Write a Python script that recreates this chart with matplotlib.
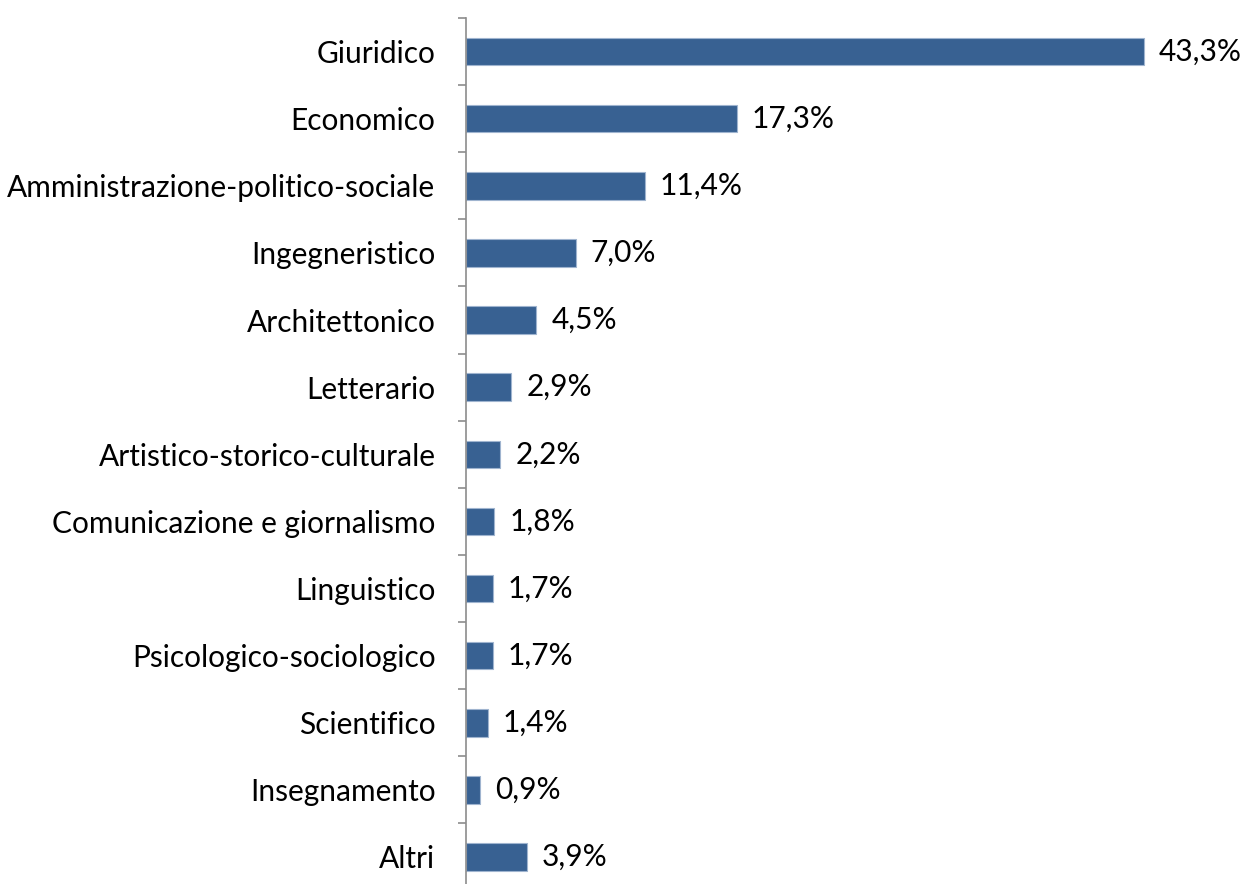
import matplotlib
matplotlib.use("Agg")
import matplotlib.pyplot as plt
import numpy as np

categories = [
    "Giuridico", "Economico", "Amministrazione-politico-sociale",
    "Ingegneristico", "Architettonico", "Letterario",
    "Artistico-storico-culturale", "Comunicazione e giornalismo",
    "Linguistico", "Psicologico-sociologico", "Scientifico",
    "Insegnamento", "Altri",
]
shares = [43.3, 17.3, 11.4, 7.0, 4.5, 2.9, 2.2, 1.8, 1.7, 1.7, 1.4, 0.9, 3.9]

plt.rcParams["font.family"] = ["Lato", "DejaVu Sans"]

fig = plt.figure(figsize=(12.41, 8.84), dpi=100)
ax = fig.add_axes([0.3755, -0.0074, 0.631, 0.987])

y = np.arange(len(categories))
ax.barh(y, shares, height=0.41, color="#386192", edgecolor="#9fb4cf", linewidth=0.8)

# percentage labels, Italian decimal comma
for yi, v in zip(y, shares):
    ax.text(v + 0.95, yi, f"{v:.1f}%".replace(".", ","), va="center", ha="left", fontsize=21.5)

ax.set_xlim(0, 50)
ax.set_ylim(len(categories) - 0.5, -0.5)
ax.set_yticks(y)
ax.set_yticklabels(categories, fontsize=21.5)
ax.set_yticks(np.arange(-0.5, len(categories), 1), minor=True)
ax.tick_params(axis="y", which="major", length=0, pad=22)
ax.tick_params(axis="y", which="minor", length=6, width=1.2, color="#8c8c8c")
ax.set_xticks([])

for side in ["top", "right", "bottom"]:
    ax.spines[side].set_visible(False)
ax.spines["left"].set_color("#8c8c8c")
ax.spines["left"].set_linewidth(1.2)

fig.savefig("out.png", dpi=100)
